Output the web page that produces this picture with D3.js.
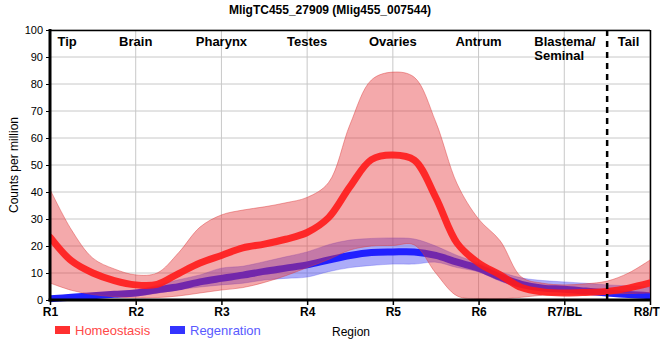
<!DOCTYPE html>
<html>
<head>
<meta charset="utf-8">
<script src="https://cdn.jsdelivr.net/npm/d3@7"></script>
<style>
  html, body { margin: 0; padding: 0; background: #fff; }
  svg { display: block; font-family: "Liberation Sans", Arial, sans-serif; }
</style>
</head>
<body>
<svg id="chart" width="660" height="360"></svg>
<script>
// ---- data ----
const title = "MligTC455_27909 (Mlig455_007544)";
const tickLabels = ["R1", "R2", "R3", "R4", "R5", "R6", "R7/BL", "R8/TL"];
const regionNames = ["Tip", "Brain", "Pharynx", "Testes", "Ovaries", "Antrum", "Blastema/\nSeminal", "Tail"];
const regionPos = [1.2, 2, 3, 4, 5, 6, 6.65, 7.75];
const dividerPos = 7.5;
const yTicks = [0, 10, 20, 30, 40, 50, 60, 70, 80, 90, 100];

const positions = [1, 1.25, 1.5, 1.75, 2, 2.25, 2.5, 2.75, 3, 3.25, 3.5, 3.75, 4, 4.25, 4.5,
                   4.75, 5, 5.25, 5.5, 5.75, 6, 6.25, 6.5, 6.75, 7, 7.25, 7.5, 7.75, 8];

const homeoMean  = [23.3, 14.5, 10, 7.2, 5.6, 5.8, 9.8, 13.7, 16.5, 19.3, 20.7, 22.5, 25, 30.5, 42,
                    52, 53.7, 51.8, 38, 21, 13.7, 9.3, 4.6, 3, 2.6, 2.8, 3.2, 4.4, 6.3];
const homeoUpper = [41, 26, 15.5, 11.5, 9.3, 10, 17.5, 27, 31.5, 33.3, 34.5, 36, 38, 43.5, 65,
                    81.5, 84.4, 82.5, 66, 43, 30, 22, 8.5, 6.2, 5.6, 6, 7, 10, 14.8];
const homeoLower = [6.3, 3.6, 2, 1.2, 0.8, 0.9, 1.5, 2.6, 3.7, 4.6, 6.5, 9, 12, 15, 18.5,
                    20, 20.2, 20.4, 10, 1.5, 0.5, 0.4, 1, 1.8, 2, 2, 2.2, 2.4, 2.6];

const regenMean  = [0.5, 1, 1.6, 2.1, 2.6, 3.8, 4.9, 6.7, 8, 9.2, 10.6, 11.8, 13, 14.8, 16.5,
                    17.6, 17.8, 17.8, 16.5, 14, 11.8, 8.5, 5.8, 4.4, 4, 3.3, 2.6, 2, 1.6];
const regenUpper = [1.3, 1.8, 2.3, 3, 3.7, 5.5, 7.5, 9.3, 11.8, 12.5, 14.2, 16, 17.8, 20.5, 22.2,
                    22.8, 23, 22.6, 20, 16.5, 13.7, 10.5, 8.2, 7.2, 6.7, 6.2, 5.6, 5.2, 4.8];
const regenLower = [-0.3, 0.2, 0.8, 1.2, 1.5, 2.5, 3.8, 4.8, 5.6, 6.2, 7.4, 8, 8.5, 10.5, 12,
                    12.8, 13.3, 13.3, 14, 12, 10.4, 7, 4.5, 3.7, 3, 2.4, 1.7, 1, 0.4];

const legendNames = ["Homeostasis", "Regenration"];

// ---- layout ----
const svg = d3.select("#chart");
const m = { left: 50, right: 10, top: 30, bottom: 60 };
const W = 660, H = 360;
const x = d3.scaleLinear().domain([1, 8]).range([m.left, W - m.right]);
const y = d3.scaleLinear().domain([0, 100]).range([H - m.bottom, m.top]);

const defs = svg.append("defs");
defs.append("clipPath").attr("id", "clip")
  .append("rect").attr("x", m.left).attr("y", m.top)
  .attr("width", x(8) - m.left).attr("height", y(0) - m.top + 4);

// grid
const grid = svg.append("g");
grid.selectAll("line.h").data(yTicks).join("line")
  .attr("x1", m.left).attr("x2", x(8))
  .attr("y1", d => y(d)).attr("y2", d => y(d))
  .attr("stroke", "#c8c8c8").attr("stroke-width", 1);
grid.selectAll("line.v").data(d3.range(1, 9)).join("line")
  .attr("x1", d => x(d)).attr("x2", d => x(d))
  .attr("y1", m.top).attr("y2", y(0))
  .attr("stroke", "#c8c8c8").attr("stroke-width", 1);

// top/right border
svg.append("line").attr("x1", m.left).attr("x2", x(8)).attr("y1", m.top + 0.5).attr("y2", m.top + 0.5)
  .attr("stroke", "#000").attr("stroke-width", 1.5);
svg.append("line").attr("x1", x(8) + 0.5).attr("x2", x(8) + 0.5).attr("y1", m.top).attr("y2", y(0))
  .attr("stroke", "#000").attr("stroke-width", 1.5);

const curve = d3.curveCatmullRom.alpha(0.5);
const area = (lo, hi) => d3.area().curve(curve)
  .x((d, i) => x(positions[i])).y0((d, i) => y(lo[i])).y1((d, i) => y(hi[i]));
const line = vals => d3.line().curve(curve)
  .x((d, i) => x(positions[i])).y((d, i) => y(vals[i]));

const plot = svg.append("g").attr("clip-path", "url(#clip)");

// regeneration band + line
plot.append("path").attr("d", area(regenLower, regenUpper)(positions))
  .attr("fill", "rgb(70,70,240)").attr("fill-opacity", 0.45)
  .attr("stroke", "rgb(70,70,240)").attr("stroke-opacity", 0.3).attr("stroke-width", 1);
plot.append("path").attr("d", line(regenMean)(positions))
  .attr("fill", "none").attr("stroke", "#2020ff").attr("stroke-width", 7)
  .attr("stroke-linecap", "round");

// homeostasis band + line
plot.append("path").attr("d", area(homeoLower, homeoUpper)(positions))
  .attr("fill", "rgb(228,50,55)").attr("fill-opacity", 0.42)
  .attr("stroke", "rgb(220,60,60)").attr("stroke-opacity", 0.45).attr("stroke-width", 1);
plot.append("path").attr("d", line(homeoMean)(positions))
  .attr("fill", "none").attr("stroke", "#ff1a1a").attr("stroke-opacity", 0.9).attr("stroke-width", 7)
  .attr("stroke-linecap", "round");

// divider
svg.append("line").attr("x1", x(dividerPos)).attr("x2", x(dividerPos))
  .attr("y1", m.top).attr("y2", y(0))
  .attr("stroke", "#000").attr("stroke-width", 2.5).attr("stroke-dasharray", "6,5");

// axes
const yAxis = svg.append("g").attr("transform", `translate(${m.left},0)`)
  .call(d3.axisLeft(y).tickValues(yTicks).tickSize(4).tickPadding(3));
yAxis.select(".domain").remove();
yAxis.selectAll("text").attr("font-size", 11).attr("fill", "#000")
  .attr("font-family", "'Liberation Sans', Arial, sans-serif");
yAxis.selectAll("line").attr("stroke", "#000");

const xAxis = svg.append("g").attr("transform", `translate(0,${y(0)})`)
  .call(d3.axisBottom(x).tickValues(d3.range(1, 9)).tickFormat((d, i) => tickLabels[i]).tickSize(5).tickPadding(2));
xAxis.select(".domain").remove();
xAxis.selectAll("text").attr("font-size", 12).attr("font-weight", "bold").attr("fill", "#000")
  .attr("font-family", "'Liberation Sans', Arial, sans-serif");
xAxis.selectAll("line").attr("stroke", "#000").attr("stroke-width", 1.5);

// thick axis lines
svg.append("line").attr("x1", m.left).attr("x2", m.left).attr("y1", m.top - 1).attr("y2", y(0) + 1.5)
  .attr("stroke", "#000").attr("stroke-width", 3);
svg.append("line").attr("x1", m.left - 1.5).attr("x2", x(8) + 1).attr("y1", y(0)).attr("y2", y(0))
  .attr("stroke", "#000").attr("stroke-width", 3);

// region labels
const rl = svg.append("g").attr("font-size", 13).attr("font-weight", "bold").attr("fill", "#000");
regionNames.forEach((name, i) => {
  const parts = name.split("\n");
  const t = rl.append("text")
    .attr("x", x(regionPos[i]))
    .attr("y", 46)
    .attr("text-anchor", parts.length > 1 ? "start" : "middle");
  parts.forEach((p, j) => {
    t.append("tspan").attr("x", x(regionPos[i])).attr("dy", j === 0 ? 0 : 14).text(p);
  });
});

// title
svg.append("text").attr("x", 330).attr("y", 14).attr("text-anchor", "middle")
  .attr("font-size", 12).attr("font-weight", "bold").text(title);

// y label
svg.append("text").attr("transform", `translate(18,${(m.top + y(0)) / 2}) rotate(-90)`)
  .attr("text-anchor", "middle").attr("font-size", 12).text("Counts per million");

// x label
svg.append("text").attr("x", 332).attr("y", 336).attr("font-size", 12).text("Region");

// legend
const legColors = ["#ff3030", "#3434ff"];
const legTextColors = ["#ff4848", "#5a5aff"];
const legX = [55, 170];
legendNames.forEach((n, i) => {
  svg.append("rect").attr("x", legX[i]).attr("y", 326).attr("width", 15).attr("height", 8)
    .attr("fill", legColors[i]);
  svg.append("text").attr("x", legX[i] + 20).attr("y", 335).attr("font-size", 13)
    .attr("fill", legTextColors[i]).text(n);
});
</script>
</body>
</html>
